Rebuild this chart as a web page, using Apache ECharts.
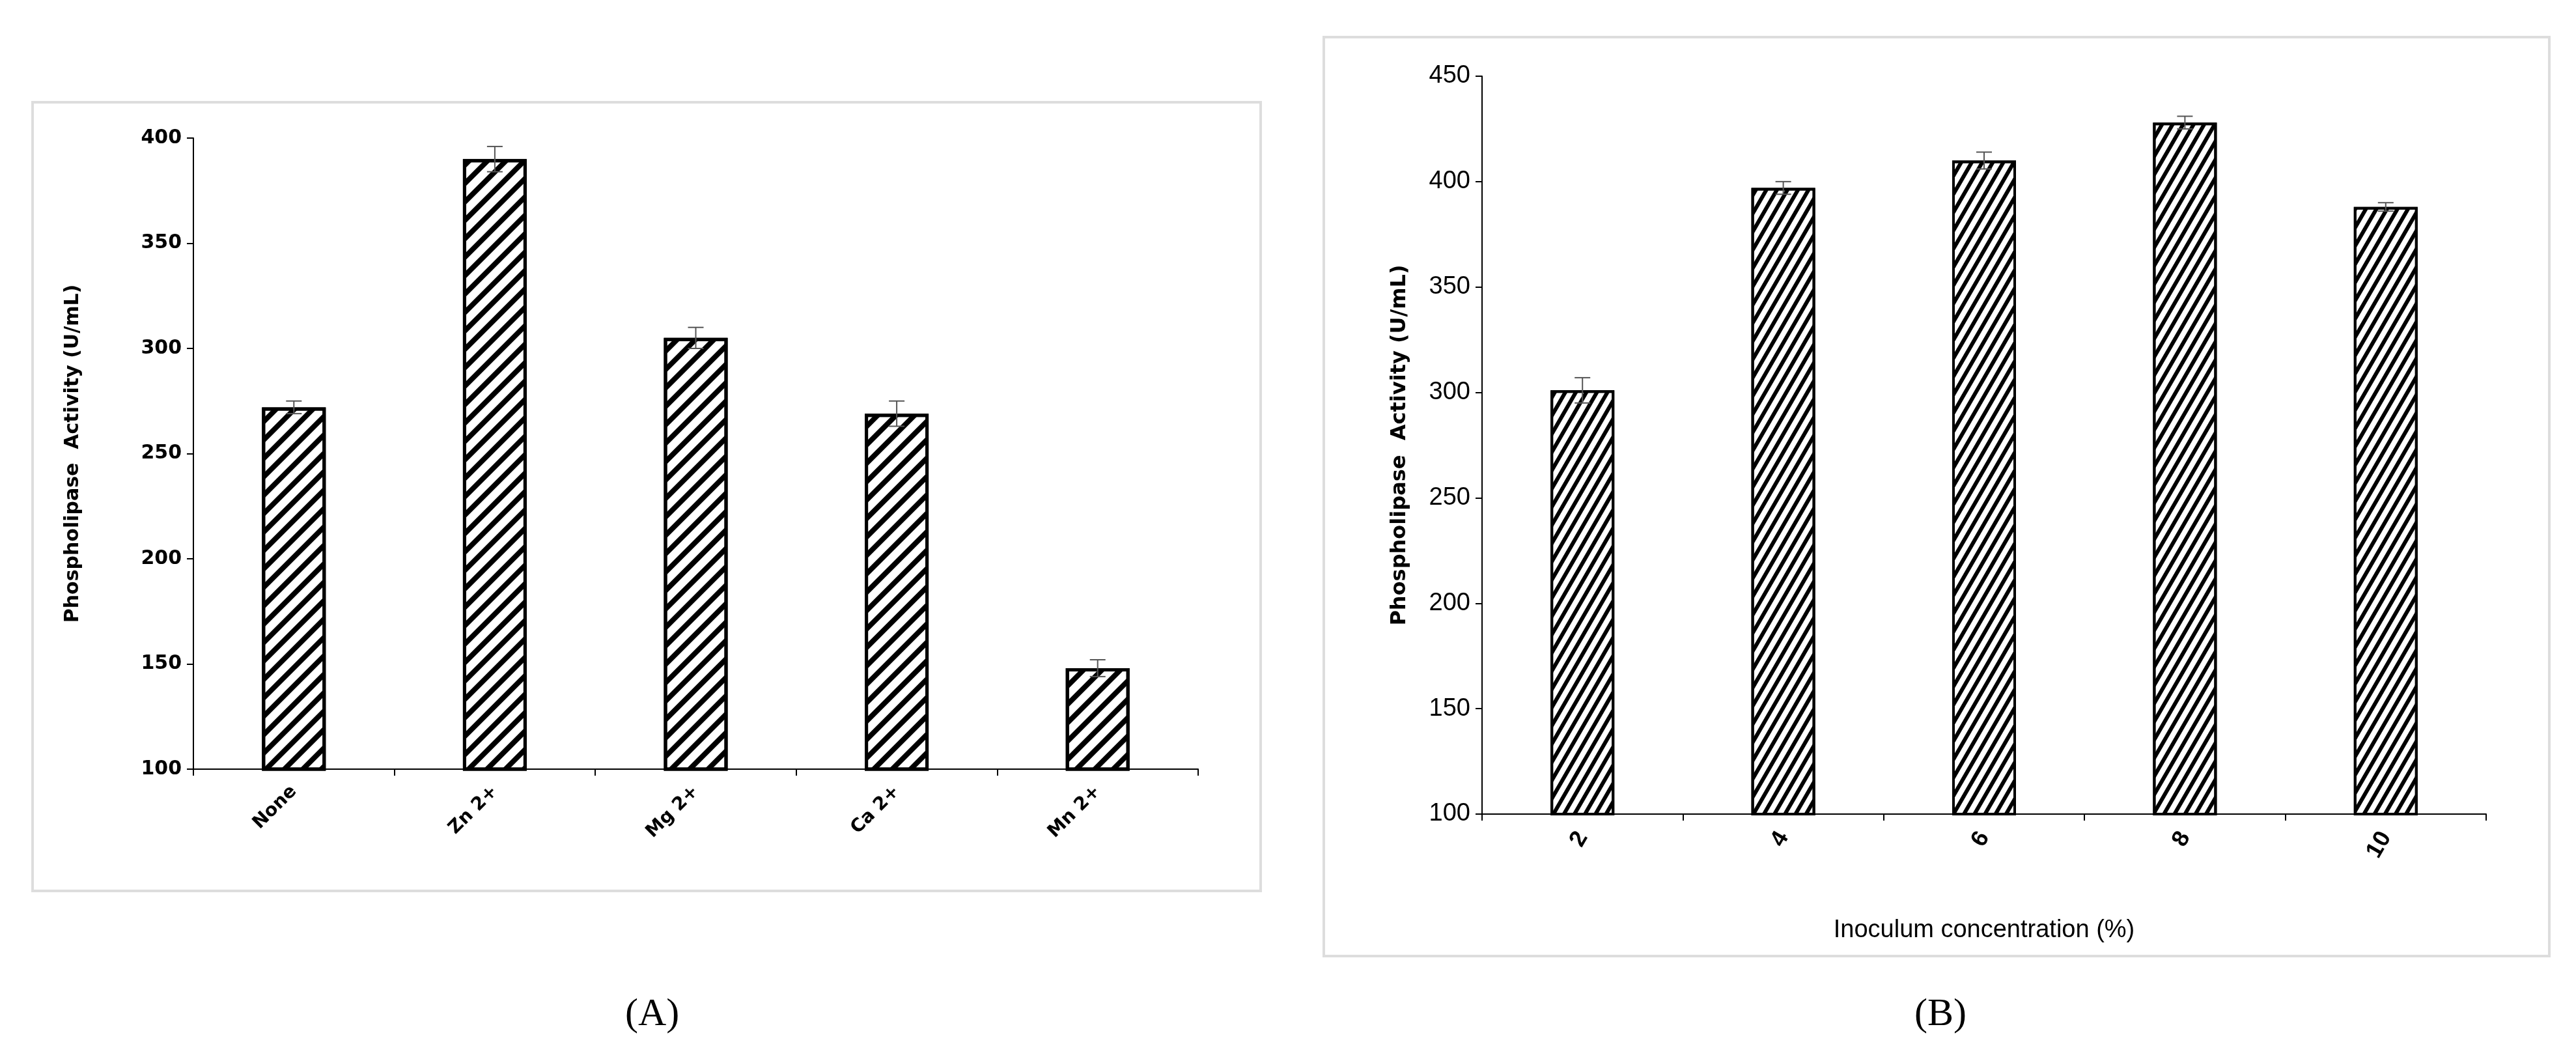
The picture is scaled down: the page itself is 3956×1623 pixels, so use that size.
<!DOCTYPE html>
<html><head><meta charset="utf-8">
<script src="https://cdn.jsdelivr.net/npm/echarts@6/dist/echarts.min.js"></script>
<style>html,body{margin:0;background:#fff}#c{width:3956px;height:1623px}</style>
</head><body><div id="c"></div>
<script>
var catsA = ['None', 'Zn 2+', 'Mg 2+', 'Ca 2+', 'Mn 2+'];
var valsA = [272, 390, 305, 269, 148];
var errA = [3, 6, 5, 6, 4];
var catsB = ['2', '4', '6', '8', '10'];
var valsB = [301, 397, 410, 428, 388];
var errB = [6, 3, 4, 3, 2];

var chart = echarts.init(document.getElementById('c'));

function errSeries(idx, vals, errs) {
  return {
    type: 'custom', xAxisIndex: idx, yAxisIndex: idx, z: 5,
    data: vals.map(function (v, i) { return [i, v, errs[i]]; }),
    renderItem: function (params, api) {
      var x = api.value(0), v = api.value(1), e = api.value(2);
      var hi = api.coord([x, v + e]), lo = api.coord([x, v - e]);
      var w = 12;
      return { type: 'group', children: [
        { type: 'line', shape: { x1: hi[0], y1: hi[1], x2: lo[0], y2: lo[1] }, style: { stroke: '#555', lineWidth: 2 } },
        { type: 'line', shape: { x1: hi[0] - w, y1: hi[1], x2: hi[0] + w, y2: hi[1] }, style: { stroke: '#555', lineWidth: 2 } },
        { type: 'line', shape: { x1: lo[0] - w, y1: lo[1], x2: lo[0] + w, y2: lo[1] }, style: { stroke: '#555', lineWidth: 2 } }
      ] };
    }
  };
}

var axisLine = { lineStyle: { color: '#000', width: 2 } };
var ticks = { show: true, length: 10, lineStyle: { color: '#000', width: 2 } };

chart.setOption({
  animation: false,
  graphic: [
    { type: 'rect', shape: { x: 50, y: 157, width: 1886, height: 1211 }, style: { fill: 'none', stroke: '#ddd', lineWidth: 4 } },
    { type: 'rect', shape: { x: 2033, y: 57, width: 1882, height: 1411 }, style: { fill: 'none', stroke: '#ddd', lineWidth: 4 } },
    { type: 'text', left: 960, top: 1528, style: { text: '(A)', font: '60px "Liberation Serif"', fill: '#000', rich: {} } },
    { type: 'text', left: 2940, top: 1528, style: { text: '(B)', font: '60px "Liberation Serif"', fill: '#000' } }
  ],
  grid: [
    { left: 297, top: 212, width: 1543, height: 969 },
    { left: 2276, top: 117, width: 1542, height: 1133 }
  ],
  xAxis: [
    { type: 'category', gridIndex: 0, data: catsA, axisLine: axisLine, axisTick: ticks,
      axisLabel: { rotate: 45, margin: 30, fontFamily: 'DejaVu Sans', fontWeight: 'bold', fontSize: 28, color: '#000' } },
    { type: 'category', gridIndex: 1, data: catsB, axisLine: axisLine, axisTick: ticks,
      name: 'Inoculum concentration (%)', nameLocation: 'middle', nameGap: 160,
      nameTextStyle: { fontFamily: 'Liberation Sans Narrow, Liberation Sans', fontSize: 38, color: '#000' },
      axisLabel: { rotate: 60, margin: 30, fontFamily: 'Liberation Sans Narrow, Liberation Sans', fontWeight: 'bold', fontSize: 36, color: '#000' } }
  ],
  yAxis: [
    { type: 'value', gridIndex: 0, min: 100, max: 400, interval: 50, splitLine: { show: false },
      axisLine: Object.assign({ show: true }, axisLine), axisTick: ticks,
      name: 'Phospholipase  Activity (U/mL)', nameLocation: 'middle', nameGap: 170,
      nameTextStyle: { fontFamily: 'DejaVu Sans', fontWeight: 'bold', fontSize: 30, color: '#000' },
      axisLabel: { fontFamily: 'DejaVu Sans', fontWeight: 'bold', fontSize: 30, color: '#000', margin: 18 } },
    { type: 'value', gridIndex: 1, min: 100, max: 450, interval: 50, splitLine: { show: false },
      axisLine: Object.assign({ show: true }, axisLine), axisTick: ticks,
      name: 'Phospholipase  Activity (U/mL)', nameLocation: 'middle', nameGap: 110,
      nameTextStyle: { fontFamily: 'DejaVu Sans', fontWeight: 'bold', fontSize: 32, color: '#000' },
      axisLabel: { fontFamily: 'Liberation Sans Narrow, Liberation Sans', fontSize: 38, color: '#000', margin: 18 } }
  ],
  series: [
    { type: 'bar', xAxisIndex: 0, yAxisIndex: 0, data: valsA, barWidth: 98,
      itemStyle: { color: '#fff', borderColor: '#000', borderWidth: 5,
        decal: { symbol: 'rect', color: '#000', dashArrayX: [1, 0], dashArrayY: [8, 12], rotation: -Math.PI / 4 } } },
    errSeries(0, valsA, errA),
    { type: 'bar', xAxisIndex: 1, yAxisIndex: 1, data: valsB, barWidth: 98,
      itemStyle: { color: '#fff', borderColor: '#000', borderWidth: 4,
        decal: { symbol: 'rect', color: '#000', dashArrayX: [1, 0], dashArrayY: [6, 8], rotation: -Math.PI / 3 } } },
    errSeries(1, valsB, errB)
  ]
});
</script></body></html>
